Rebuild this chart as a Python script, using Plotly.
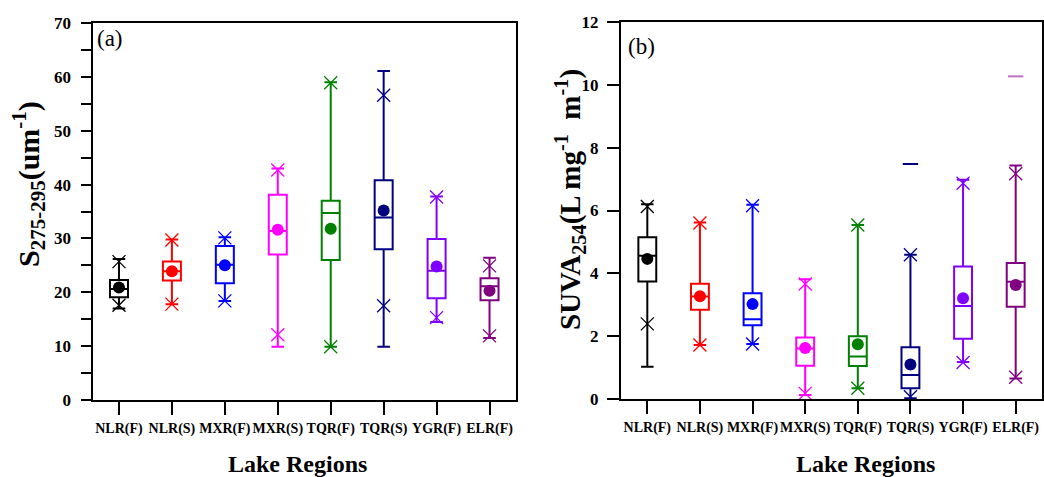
import plotly.graph_objects as go

# ---------------- data ----------------
categories = ["NLR(F)", "NLR(S)", "MXR(F)", "MXR(S)", "TQR(F)", "TQR(S)", "YGR(F)", "ELR(F)"]
colors = ["#000000", "#FF0000", "#0000FF", "#FF00FF", "#008000", "#000080", "#8000FF", "#800080"]

# Panel (a): S275-295
s_lo   = [17.0, 17.8, 18.4, 9.9, 9.9, 9.9, 14.5, 11.5]
s_q1   = [19.1, 22.2, 21.7, 27.0, 26.0, 28.0, 18.9, 18.5]
s_med  = [20.6, 23.9, 25.1, 31.4, 34.7, 33.9, 24.0, 21.1]
s_q3   = [22.3, 25.7, 28.6, 38.1, 37.0, 40.8, 29.9, 22.6]
s_hi   = [26.2, 29.8, 30.2, 43.0, 59.0, 61.1, 37.8, 26.4]
s_mean = [20.9, 23.9, 25.0, 31.6, 31.8, 35.2, 24.8, 20.3]
s_xlo  = [17.6, 17.8, 18.4, 12.1, 9.9, 17.5, 15.3, 11.9]
s_xhi  = [25.7, 29.7, 30.1, 42.7, 58.9, 56.6, 37.7, 24.9]

# Panel (b): SUVA254
u_lo   = [1.03, 1.72, 1.75, 0.13, 0.34, 0.02, 1.18, 0.65]
u_q1   = [3.74, 2.84, 2.35, 1.06, 1.05, 0.34, 1.92, 2.94]
u_med  = [4.56, 3.26, 2.54, 1.61, 1.35, 0.76, 2.96, 3.73]
u_q3   = [5.15, 3.67, 3.37, 1.96, 2.00, 1.65, 4.22, 4.33]
u_hi   = [6.20, 5.62, 6.18, 3.81, 5.54, 4.59, 6.98, 7.43]
u_mean = [4.46, 3.27, 3.02, 1.62, 1.74, 1.10, 3.21, 3.63]
u_xlo  = [2.39, 1.72, 1.75, 0.18, 0.34, 0.07, 1.16, 0.69]
u_xhi  = [6.13, 5.60, 6.15, 3.66, 5.54, 4.59, 6.87, 7.17]
u_out_cat = ["TQR(S)", "ELR(F)"]
u_out_val = [7.48, 10.27]
u_out_col = ["#000080", "#C070C0"]

FONT = "Liberation Serif"
W, H = 1044, 477

fig = go.Figure()

def add_panel(xa, ya, lo, q1, med, q3, hi, mean, xlo, xhi):
    for i, cat in enumerate(categories):
        fig.add_trace(go.Box(
            x=[cat], q1=[q1[i]], median=[med[i]], q3=[q3[i]],
            lowerfence=[lo[i]], upperfence=[hi[i]],
            width=0.34, whiskerwidth=0.7,
            line=dict(color=colors[i], width=2),
            fillcolor="rgba(0,0,0,0)", boxpoints=False,
            xaxis=xa, yaxis=ya, showlegend=False, hoverinfo="skip"))
    fig.add_trace(go.Scatter(
        x=categories + categories, y=xlo + xhi, mode="markers",
        marker=dict(symbol="x-thin", size=13, line=dict(width=1.3, color=colors + colors)),
        xaxis=xa, yaxis=ya, showlegend=False, hoverinfo="skip"))
    fig.add_trace(go.Scatter(
        x=categories, y=mean, mode="markers",
        marker=dict(symbol="circle", size=12, color=colors, line=dict(width=0)),
        xaxis=xa, yaxis=ya, showlegend=False, hoverinfo="skip"))

add_panel("x", "y", s_lo, s_q1, s_med, s_q3, s_hi, s_mean, s_xlo, s_xhi)
add_panel("x2", "y2", u_lo, u_q1, u_med, u_q3, u_hi, u_mean, u_xlo, u_xhi)

fig.add_trace(go.Scatter(
    x=u_out_cat, y=u_out_val, mode="markers",
    marker=dict(symbol="line-ew", size=11, line=dict(width=2, color=u_out_col)),
    xaxis="x2", yaxis="y2", showlegend=False, hoverinfo="skip"))

xcommon = dict(type="category", categoryorder="array", categoryarray=categories,
               range=[-0.5, 7.5], showline=True, linecolor="black", linewidth=2,
               mirror=True, ticks="outside", ticklen=13, tickwidth=2, tickcolor="black",
               showgrid=False, zeroline=False, tickangle=0, automargin=False,
               ticklabelstandoff=1,
               tickfont=dict(family=FONT, size=14, color="black", weight="bold"))
ycommon = dict(showline=True, linecolor="black", linewidth=2, mirror=True,
               ticks="outside", tickwidth=2, tickcolor="black",
               showgrid=False, zeroline=False, automargin=False,
               tickfont=dict(family=FONT, size=17, color="black", weight="bold"))

fig.update_layout(
    width=W, height=H,
    margin=dict(l=0, r=0, t=0, b=0, autoexpand=False),
    paper_bgcolor="white", plot_bgcolor="white",
    boxmode="overlay",
    xaxis=dict(domain=[92.5 / W, 516 / W], anchor="y", **xcommon),
    yaxis=dict(domain=[1 - 400 / H, 1 - 23 / H], anchor="x", range=[0, 70],
               tickvals=[0, 10, 20, 30, 40, 50, 60, 70], ticklen=10,
               ticklabelstandoff=6,
               minor=dict(tickvals=[5, 15, 25, 35, 45, 55, 65], ticks="outside",
                          ticklen=10, tickwidth=2, tickcolor="black"),
               **ycommon),
    xaxis2=dict(domain=[621 / W, 1042 / W], anchor="y2", **xcommon),
    yaxis2=dict(domain=[1 - 399 / H, 1 - 22 / H], anchor="x2", range=[0, 12],
                tickvals=[0, 2, 4, 6, 8, 10, 12], ticklen=12,
                ticklabelstandoff=5,
                **ycommon),
)

ann_font = dict(family=FONT, color="black")
fig.add_annotation(x=28 / W, y=1 - 184 / H, xref="paper", yref="paper",
                   text="S<sub>275-295</sub>(um<sup>-1</sup>)", textangle=-90,
                   showarrow=False, xanchor="center", yanchor="middle",
                   font=dict(size=30, weight="bold", **ann_font))
fig.add_annotation(x=570 / W, y=1 - 200 / H, xref="paper", yref="paper",
                   text="SUVA<sub>254</sub>(L mg<sup>-1</sup>  m<sup>-1</sup>)", textangle=-90,
                   showarrow=False, xanchor="center", yanchor="middle",
                   font=dict(size=29, weight="bold", **ann_font))
fig.add_annotation(x=297 / W, y=1 - 464 / H, xref="paper", yref="paper",
                   text="Lake Regions", showarrow=False, xanchor="center", yanchor="middle",
                   font=dict(size=24, weight="bold", **ann_font))
fig.add_annotation(x=865 / W, y=1 - 464 / H, xref="paper", yref="paper",
                   text="Lake Regions", showarrow=False, xanchor="center", yanchor="middle",
                   font=dict(size=24, weight="bold", **ann_font))
fig.add_annotation(x=95 / W, y=1 - 39 / H, xref="paper", yref="paper",
                   text="(a)", showarrow=False, xanchor="left", yanchor="middle",
                   font=dict(size=23, **ann_font))
fig.add_annotation(x=626 / W, y=1 - 46 / H, xref="paper", yref="paper",
                   text="(b)", showarrow=False, xanchor="left", yanchor="middle",
                   font=dict(size=23, **ann_font))

fig.write_html("out.html")
